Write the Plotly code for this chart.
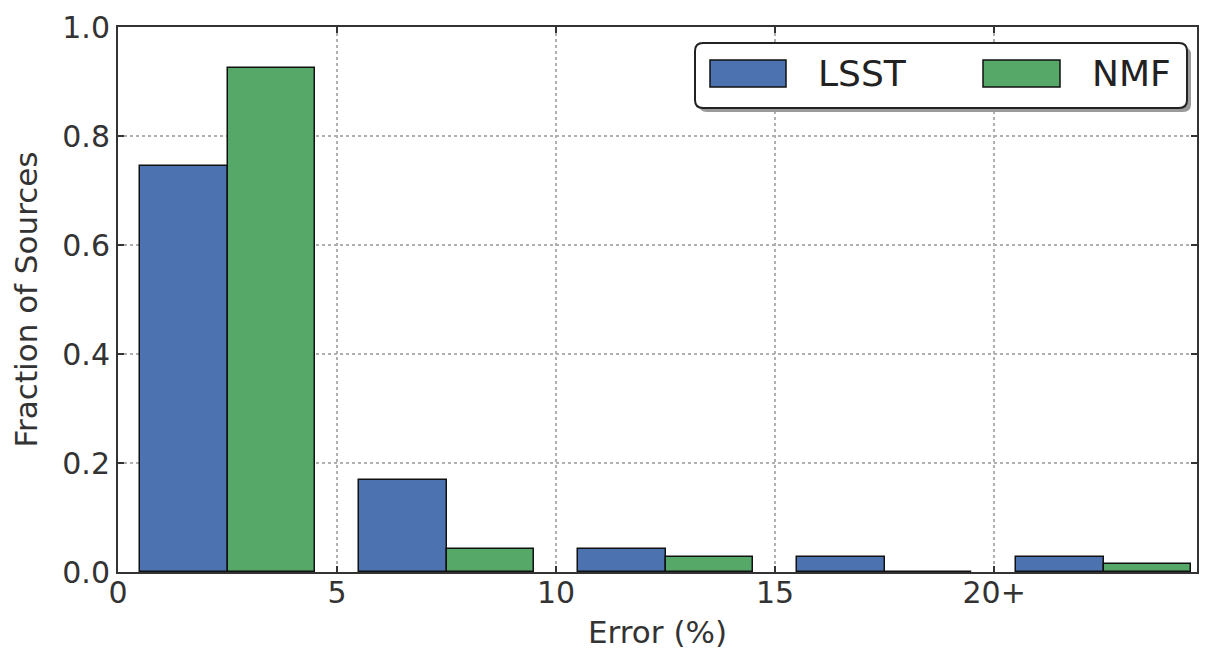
import plotly.graph_objects as go

# ---- data ----
group_centers = [2.5, 7.5, 12.5, 17.5, 22.5]
lsst_values = [0.745, 0.169, 0.042, 0.027, 0.027]
nmf_values = [0.924, 0.042, 0.027, 0.0, 0.015]
series_names = ["LSST", "NMF"]
x_tick_vals = [0, 5, 10, 15, 20]
x_tick_text = ["0", "5", "10", "15", "20+"]
y_tick_vals = [0.0, 0.2, 0.4, 0.6, 0.8, 1.0]
y_tick_text = ["0.0", "0.2", "0.4", "0.6", "0.8", "1.0"]

BLUE = "#4c72b0"
GREEN = "#55a868"
FONT = "DejaVu Sans"

# page body adds an 8px offset; figure laid out so the screenshot matches
W, H = 1201, 645
L, R, T, B = 110, 12, 19, 81
PW, PH = W - L - R, H - T - B

fig = go.Figure()
fig.add_trace(go.Bar(x=group_centers, y=lsst_values, name=series_names[0],
                     width=2.0, offset=-2.0,
                     marker=dict(color=BLUE, line=dict(color="#111111", width=1.5)),
                     showlegend=False))
fig.add_trace(go.Bar(x=group_centers, y=nmf_values, name=series_names[1],
                     width=2.0, offset=0.0,
                     marker=dict(color=GREEN, line=dict(color="#111111", width=1.5)),
                     showlegend=False))

axis_common = dict(
    showline=True, linecolor="#333333", linewidth=2, mirror="allticks",
    ticks="inside", ticklen=6, tickwidth=1.5, tickcolor="#333333",
    showgrid=True, gridcolor="#b0b0b0", griddash="dot", gridwidth=1.5,
    zeroline=False, automargin=False, ticklabeloverflow="allow",
    tickfont=dict(family=FONT, size=30, color="#333333"),
)

fig.update_layout(
    width=W, height=H,
    margin=dict(l=L, r=R, t=T, b=B),
    paper_bgcolor="white", plot_bgcolor="white",
    barmode="overlay", bargap=0,
    xaxis=dict(range=[0, 24.63], tickvals=x_tick_vals, ticktext=x_tick_text,
               ticklabelstandoff=-7,
               title=dict(text="Error (%)", font=dict(family=FONT, size=31, color="#333333"), standoff=12),
               **axis_common),
    yaxis=dict(range=[0, 1.0], tickvals=y_tick_vals, ticktext=y_tick_text,
               title=dict(text="Fraction of Sources", font=dict(family=FONT, size=31, color="#333333"), standoff=18),
               **axis_common),
)


# ---- custom legend (rounded box with shadow), positions in screen pixels ----
OFF = 8


def px(x):
    return (x - OFF - L) / PW


def py(y):
    return (H - B - (y - OFF)) / PH


def rounded_path(x0, y0, x1, y1, r):
    pts = []
    pts.append(f"M {px(x0 + r)},{py(y0)}")
    pts.append(f"L {px(x1 - r)},{py(y0)}")
    pts.append(f"Q {px(x1)},{py(y0)} {px(x1)},{py(y0 + r)}")
    pts.append(f"L {px(x1)},{py(y1 - r)}")
    pts.append(f"Q {px(x1)},{py(y1)} {px(x1 - r)},{py(y1)}")
    pts.append(f"L {px(x0 + r)},{py(y1)}")
    pts.append(f"Q {px(x0)},{py(y1)} {px(x0)},{py(y1 - r)}")
    pts.append(f"L {px(x0)},{py(y0 + r)}")
    pts.append(f"Q {px(x0)},{py(y0)} {px(x0 + r)},{py(y0)}")
    pts.append("Z")
    return " ".join(pts)


bx0, by0, bx1, by1 = 695, 43, 1187, 108
fig.add_shape(type="path", xref="paper", yref="paper",
              path=rounded_path(bx0 + 4, by0 + 4, bx1 + 4, by1 + 4, 8),
              fillcolor="#9a9a9a", line=dict(width=0), layer="above")
fig.add_shape(type="path", xref="paper", yref="paper",
              path=rounded_path(bx0, by0, bx1, by1, 8),
              fillcolor="white", line=dict(color="#222222", width=2), layer="above")

swatches = [(710, 786, 816, BLUE), (983, 1060, 1090, GREEN)]
for (sx0, sx1, tx, col), name in zip(swatches, series_names):
    fig.add_shape(type="rect", xref="paper", yref="paper",
                  x0=px(sx0), x1=px(sx1), y0=py(60), y1=py(87),
                  fillcolor=col, line=dict(color="#111111", width=1.5), layer="above")
    fig.add_annotation(xref="paper", yref="paper", x=px(tx), y=py(73),
                       text=name, showarrow=False, xanchor="left", yanchor="middle",
                       font=dict(family=FONT, size=36, color="#222222"))

fig.write_html("out.html")
